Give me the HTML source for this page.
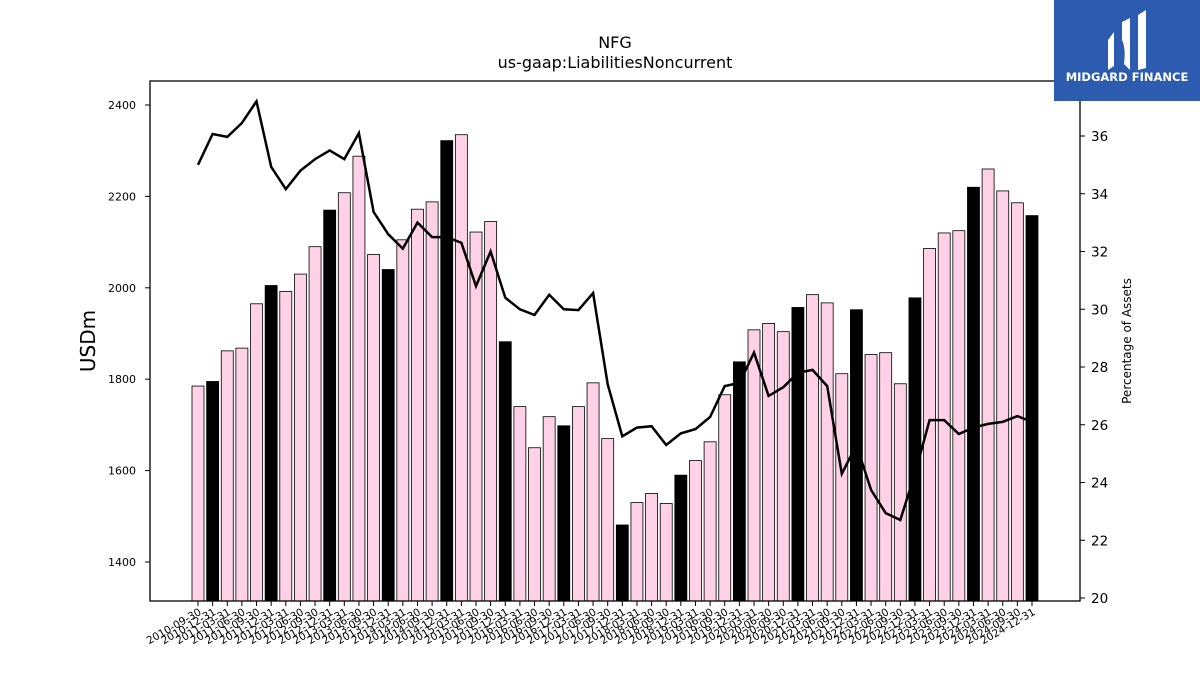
<!DOCTYPE html>
<html><head><meta charset="utf-8"><style>
body{margin:0;background:#fff;font-family:"Liberation Sans","DejaVu Sans",sans-serif}
svg text{font-family:"DejaVu Sans","Liberation Sans",sans-serif}
</style></head><body>
<svg id="c" width="1200" height="675" xmlns="http://www.w3.org/2000/svg">
<rect width="1200" height="675" fill="#fff"/>
<text x="615" y="48" font-size="16" text-anchor="middle">NFG</text>
<text x="615" y="68" font-size="16" text-anchor="middle">us-gaap:LiabilitiesNoncurrent</text>
<g id="bars"></g>
<g id="xt"></g>
<g id="yl"></g>
<g id="yr"></g>
<path id="ln" fill="none" stroke="#000" stroke-width="2.5"/>
<rect x="150" y="81" width="930" height="520" fill="none" stroke="#000" stroke-width="1.3"/>
<text transform="translate(95,341) rotate(-90)" font-size="20" text-anchor="middle">USDm</text>
<text transform="translate(1131,341) rotate(-90)" font-size="12" text-anchor="middle">Percentage of Assets</text>
<g>
<rect x="1054" y="0" width="146" height="101" fill="#2d5bb0"/>
<path d="M1108 40 L1114 32 L1114 66 L1108 70 Z M1122 22 L1130 18 L1130 70 L1124 64 Q1126 48 1122 40 Z M1138 15 L1146 10 L1146 68 L1138 70 Z" fill="#fff"/>
<text x="1127" y="81" font-size="11.5" font-weight="bold" fill="#fff" text-anchor="middle" font-family="Liberation Sans">MIDGARD FINANCE</text>
</g>
</svg>
<script>
const dates=["2010-09-30","2010-12-31","2011-03-31","2011-06-30","2011-09-30","2011-12-31","2012-03-31","2012-06-30","2012-09-30","2012-12-31","2013-03-31","2013-06-30","2013-09-30","2013-12-31","2014-03-31","2014-06-30","2014-09-30","2014-12-31","2015-03-31","2015-06-30","2015-09-30","2015-12-31","2016-03-31","2016-06-30","2016-09-30","2016-12-31","2017-03-31","2017-06-30","2017-09-30","2017-12-31","2018-03-31","2018-06-30","2018-09-30","2018-12-31","2019-03-31","2019-06-30","2019-09-30","2019-12-31","2020-03-31","2020-06-30","2020-09-30","2020-12-31","2021-03-31","2021-06-30","2021-09-30","2021-12-31","2022-03-31","2022-06-30","2022-09-30","2022-12-31","2023-03-31","2023-06-30","2023-09-30","2023-12-31","2024-03-31","2024-06-30","2024-09-30","2024-12-31"];
const liabilities=[1785,1795,1862,1868,1965,2005,1992,2030,2090,2170,2208,2288,2073,2040,2105,2172,2188,2322,2335,2122,2145,1882,1740,1650,1718,1698,1740,1792,1670,1481,1530,1550,1528,1590,1622,1663,1766,1838,1908,1922,1904,1957,1985,1967,1812,1952,1854,1858,1790,1978,2086,2120,2125,2220,2260,2212,2186,2158];
const pct=[35.0,36.07,35.97,36.45,37.2,34.93,34.16,34.8,35.2,35.5,35.2,36.1,33.37,32.6,32.1,33.0,32.5,32.5,32.3,30.8,32.0,30.4,30.0,29.8,30.5,30.0,29.97,30.56,27.4,25.6,25.9,25.95,25.3,25.7,25.85,26.27,27.34,27.45,28.5,27.0,27.3,27.8,27.9,27.34,24.3,25.3,23.74,22.94,22.7,24.3,26.16,26.16,25.68,25.9,26.03,26.1,26.3,26.1];
const leftTicks=[1400,1600,1800,2000,2200,2400];
const rightTicks=[20,22,24,26,28,30,32,34,36];
const NS="http://www.w3.org/2000/svg";
const x=i=>198+i*(1032-198)/57;
const yL=v=>105+(2400-v)*0.457;
const yR=v=>136+(36-v)*28.875;
function mk(t,a,p){const e=document.createElementNS(NS,t);for(const k in a)e.setAttribute(k,a[k]);p.appendChild(e);return e;}
const bars=document.getElementById('bars'),xt=document.getElementById('xt'),yl=document.getElementById('yl'),yr=document.getElementById('yr');
liabilities.forEach((v,i)=>{
 const r=mk('rect',{x:x(i)-6,y:yL(v),width:12,height:601-yL(v),fill:(i%4==1)?'#000':'#ffd1e6',stroke:'#000','stroke-width':0.8},bars);
 
 
 mk('line',{x1:x(i),x2:x(i),y1:601,y2:606,stroke:'#000'},xt);
 const t=mk('text',{'font-size':10.5,'text-anchor':'end',transform:`translate(${x(i)+4},${614}) rotate(-30)`},xt);
 t.textContent=dates[i];
 
 
});
leftTicks.forEach(v=>{
 mk('line',{x1:145,x2:150,y1:yL(v),y2:yL(v),stroke:'#000'},yl);
 const t=mk('text',{x:136,y:yL(v)+4,'font-size':11,'text-anchor':'end'},yl);t.textContent=v;
 
 
});
rightTicks.forEach(v=>{
 mk('line',{x1:1080,x2:1085,y1:yR(v),y2:yR(v),stroke:'#000'},yr);
 const t=mk('text',{x:1091,y:yR(v)+5,'font-size':13.5},yr);t.textContent=v;
 
 
});
document.getElementById('ln').setAttribute('d',pct.map((v,i)=>(i?'L':'M')+x(i).toFixed(1)+' '+yR(v).toFixed(1)).join(' '));
</script>
</body></html>
